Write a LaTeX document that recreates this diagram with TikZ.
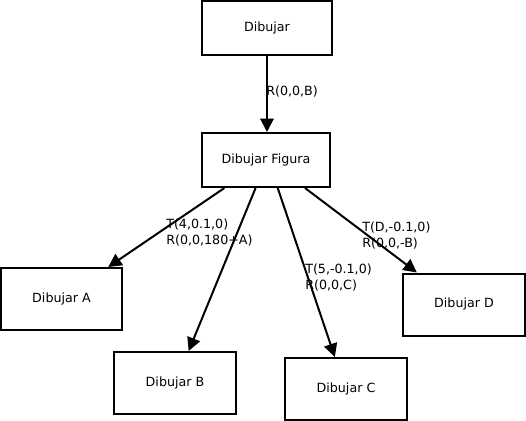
\documentclass[tikz,border=0pt]{standalone}
\usepackage{fontspec}
\setmainfont{DejaVu Sans}
\usetikzlibrary{positioning,calc,arrows.meta}

\begin{document}
\begin{tikzpicture}[
			x=0.75pt, y=-0.75pt,
			font=\fontsize{9.5}{12}\selectfont,
			caja/.style={rectangle, draw=black, line width=1.5pt, inner sep=0pt},
			flecha/.style={line width=1.5pt, -{Triangle[length=10pt,width=10pt]}},
			etiqueta/.style={anchor=west, align=left, inner sep=0pt},
			]
			\useasboundingbox (0,0) rectangle (526,421);
			%Nodes
				% top nodes
				\node[caja, minimum width=97.5pt, minimum height=40.5pt]	(dibujar)	at (267,28)		{Dibujar};
				\node[caja, minimum width=96pt, minimum height=40.5pt]		(figura)	at (266,160)	{Dibujar Figura};
				% child nodes
				\node[caja, minimum width=90.75pt, minimum height=46.5pt]	(dibA)		at (61.5,299)	{Dibujar A};
				\node[caja, minimum width=91.5pt, minimum height=46.5pt]	(dibB)		at (175,383)	{Dibujar B};
				\node[caja, minimum width=91.5pt, minimum height=46.5pt]	(dibC)		at (346,389)	{Dibujar C};
				\node[caja, minimum width=91.5pt, minimum height=46.5pt]	(dibD)		at (464,304.5)	{Dibujar D};
				% labels
				\node[etiqueta]		(labB)		at (266,91.5)	{R(0,0,B)};
				\node[etiqueta]		(labA)		at (166,232.5)	{T(4,0.1,0)\\R(0,0,180+A)};
				\node[etiqueta]		(labC)		at (305,277.5)	{T(5,-0.1,0)\\R(0,0,C)};
				\node[etiqueta]		(labD)		at (362,235.5)	{T(D,-0.1,0)\\R(0,0,-B)};

			%Lines
				\draw[flecha] (dibujar.south) -- (dibujar.south |- figura.north);
				\draw[flecha] ($(figura.south west)!0.18!(figura.south east)$) -- ($(dibA.north west)!0.88!(dibA.north east)$);
				\draw[flecha] ($(figura.south west)!0.42!(figura.south east)$) -- ($(dibB.north west)!0.61!(dibB.north east)$);
				\draw[flecha] ($(figura.south west)!0.59!(figura.south east)$) -- ($(dibC.north west)!0.41!(dibC.north east)$);
				\draw[flecha] ($(figura.south west)!0.80!(figura.south east)$) -- ($(dibD.north west)!0.12!(dibD.north east)$);
		\end{tikzpicture}
\end{document}
